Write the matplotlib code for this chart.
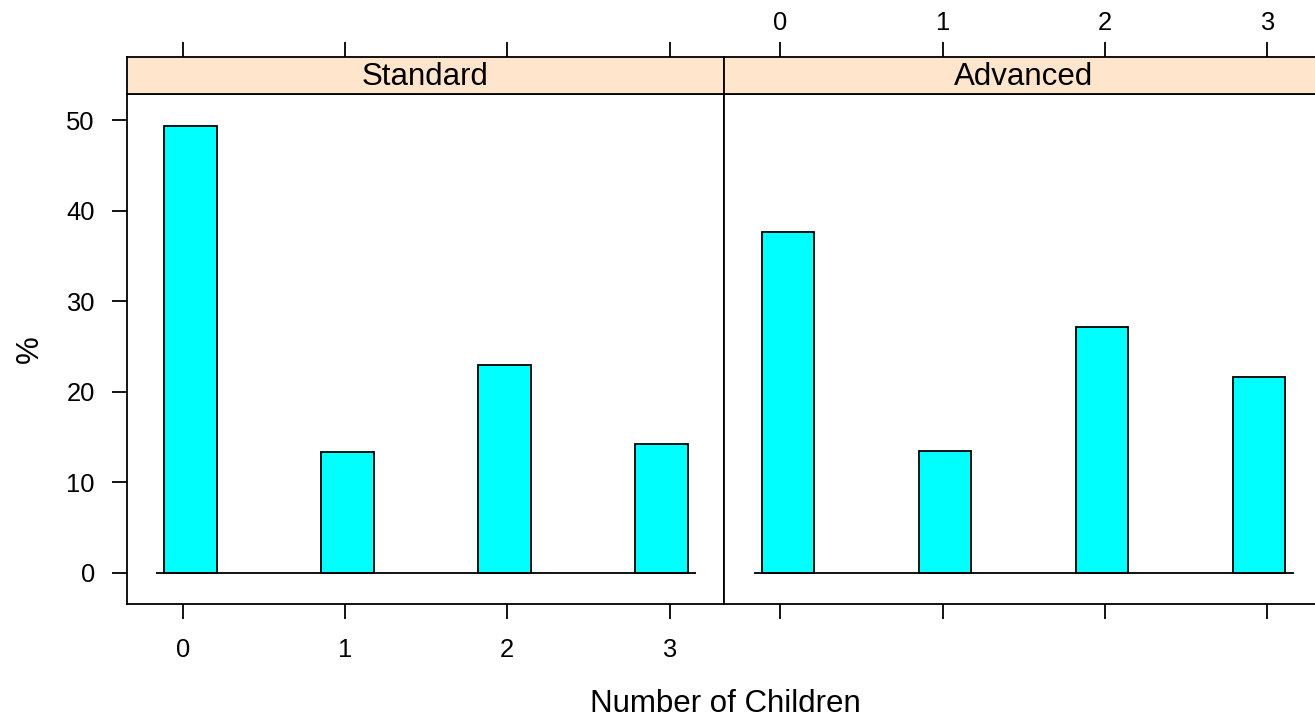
import matplotlib
matplotlib.use("Agg")
import matplotlib.pyplot as plt
import numpy as np

# ---- data ----
categories = [0, 1, 2, 3]
panel_names = ["Standard", "Advanced"]
standard_pct = [49.4, 13.3, 23.0, 14.2]
advanced_pct = [37.6, 13.5, 27.2, 21.6]
y_ticks = [0, 10, 20, 30, 40, 50]
x_label = "Number of Children"
y_label = "%"

plt.rcParams['font.family'] = ['Liberation Sans', 'DejaVu Sans']

W, H = 1315, 721
fig = plt.figure(figsize=(W / 100, H / 100), dpi=100)


def fx(px):
    return px / W


def fy(py):
    return 1 - py / H


px_left = 126.5
pw = 597.8
py_top = 94.0
py_bot = 604.0
strip_top = 56.5
xlim = (-0.346, 3.337)
ylim = (-3.46, 52.9)

# histogram-style bins used by the bars
breaks = np.linspace(-0.113, 3.111, 11)
idx = np.searchsorted(breaks, np.array(categories), side='right') - 1
lefts = breaks[idx]
widths = breaks[idx + 1] - breaks[idx]

strip_color = "#FFE5CC"
bar_color = "#00FFFF"
lw = 1.3
tick_len = 10.8
tick_fs = 18.4
big_fs = 22.5

values = [standard_pct, advanced_pct]

for i, (name, vals) in enumerate(zip(panel_names, values)):
    x0 = px_left + i * pw
    ax = fig.add_axes([fx(x0), fy(py_bot), pw / W, (py_bot - py_top) / H])
    ax.set_xlim(*xlim)
    ax.set_ylim(*ylim)
    ax.bar(lefts, vals, width=widths, align='edge', color=bar_color,
           edgecolor='black', linewidth=lw, zorder=3)
    ax.hlines(0, breaks[0] - 0.05, breaks[-1] + 0.05, color='black',
              linewidth=lw, zorder=4)
    for s in ax.spines.values():
        s.set_linewidth(lw)
    ax.set_xticks(categories)
    ax.set_xticklabels([str(c) for c in categories])
    ax.set_yticks(y_ticks)
    ax.set_yticklabels([str(v) for v in y_ticks])
    ax.tick_params(axis='both', direction='out', length=tick_len, width=lw,
                   labelsize=tick_fs)
    ax.tick_params(axis='x', pad=14)
    ax.tick_params(axis='y', pad=12)
    if i == 0:
        ax.tick_params(axis='x', bottom=True, labelbottom=True, top=False)
        ax.tick_params(axis='y', left=True, labelleft=True, right=False)
    else:
        ax.tick_params(axis='x', bottom=True, labelbottom=False, top=False)
        ax.tick_params(axis='y', left=False, labelleft=False, right=True,
                       labelright=False)

    sax = fig.add_axes([fx(x0), fy(py_top), pw / W, (py_top - strip_top) / H])
    sax.set_facecolor(strip_color)
    sax.set_xlim(*xlim)
    sax.set_ylim(0, 1)
    for s in sax.spines.values():
        s.set_linewidth(lw)
    sax.set_yticks([])
    sax.set_xticks(categories)
    sax.set_xticklabels([str(c) for c in categories])
    sax.tick_params(axis='x', direction='out', length=tick_len, width=lw,
                    labelsize=tick_fs, bottom=False, labelbottom=False,
                    top=True, labeltop=(i == 1), pad=5)
    sax.text(0.5, 0.45, name, transform=sax.transAxes, ha='center',
             va='center', fontsize=big_fs)

fig.text(fx(30), fy(349), y_label, rotation=90, ha='center', va='center',
         fontsize=big_fs)
fig.text(fx(725), fy(704), x_label, ha='center', va='center',
         fontsize=big_fs)

fig.savefig("out.png", dpi=100)
